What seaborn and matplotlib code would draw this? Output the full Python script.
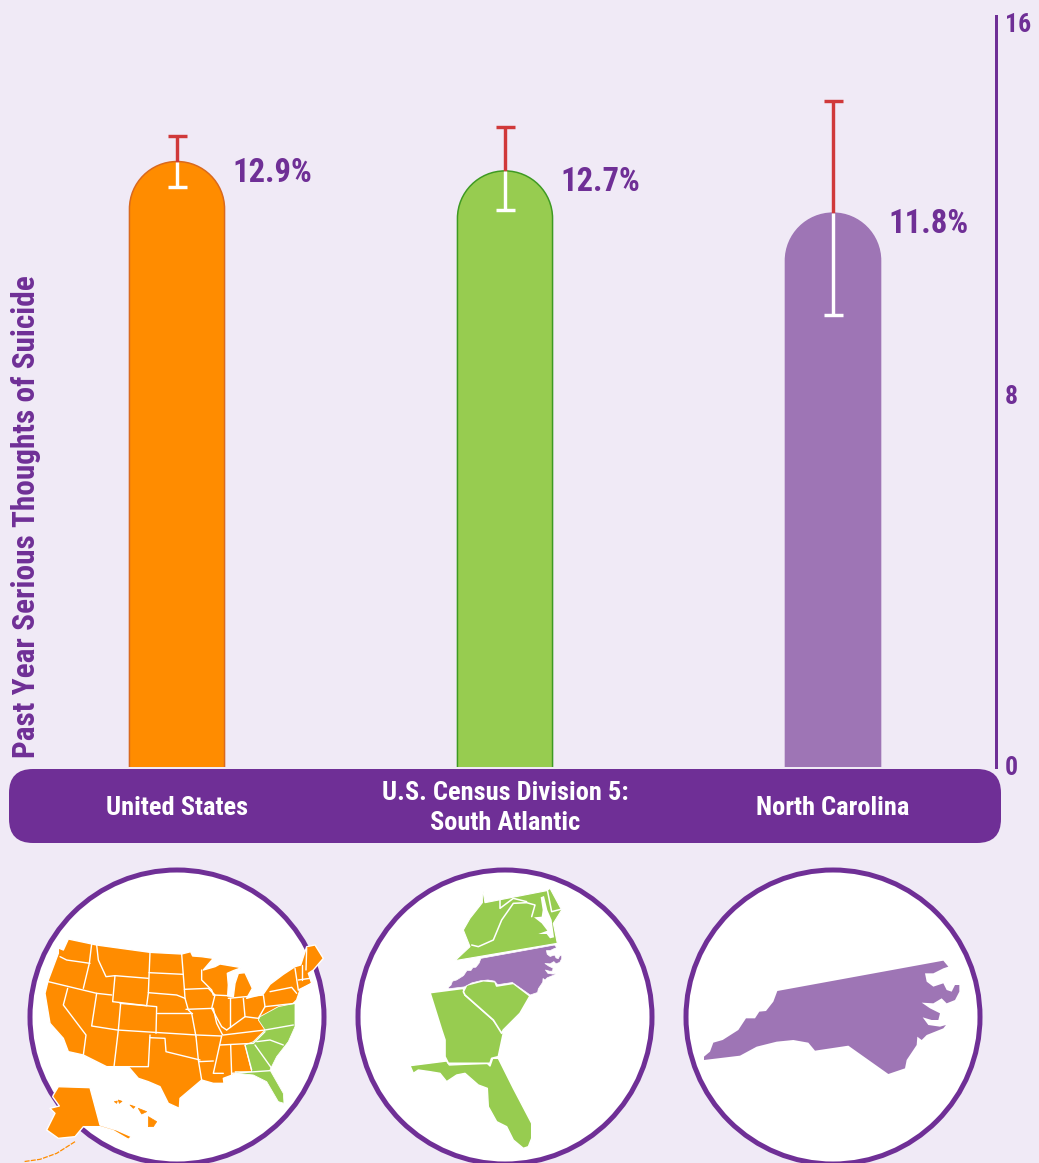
import matplotlib
matplotlib.use("Agg")
import matplotlib.pyplot as plt
import seaborn as sns
import pandas as pd
from matplotlib.patches import Circle, FancyBboxPatch, PathPatch, Polygon
from matplotlib.path import Path
from matplotlib.transforms import ScaledTranslation

# ---- chart data ----
categories = ["United States", "U.S. Census Division 5:\nSouth Atlantic", "North Carolina"]
values = [12.9, 12.7, 11.8]
ci_low = [12.36, 11.87, 9.63]
ci_high = [13.44, 13.63, 14.19]
value_labels = ["12.9%", "12.7%", "11.8%"]
y_ticks = [0, 8, 16]
y_title = "Past Year Serious Thoughts of Suicide"

# ---- decorative map outlines (traced, 3x pixel units) ----
us_outline = [(175,600),(178,625),(190,630),(205,597),(290,615),(450,637),(545,642),(572,635),(578,648),(605,650),(640,655),
    (610,690),(645,680),(660,672),(725,683),(700,692),(682,700),(685,735),(683,768),(700,770),(705,730),(715,700),(735,698),(757,745),(740,775),
    (790,762),(810,733),(850,703),(885,680),(902,675),(920,620),(945,615),(970,655),(940,690),(925,700),(935,730),
    (900,750),(890,780),(875,795),(885,860),(865,905),(830,950),(810,990),(850,1060),(852,1090),(835,1085),
    (800,1025),(760,1005),(710,1000),(670,1015),(672,1030),(640,1030),(605,1020),(540,1075),(538,1105),
    (505,1090),(480,1040),(445,1025),(415,1015),(385,980),(320,980),(250,945),(205,935),(190,895),(150,850),
    (135,760),(145,720),(175,640)]
us_green = [(780,830),(835,800),(885,790),(885,860),(865,905),(830,950),(810,990),(850,1060),(852,1090),
    (835,1085),(800,1025),(760,1005),(710,1000),(705,995),(755,995),(735,915),(760,905),(795,870),(775,840)]
us_lines = [
    [(180,650),(200,660),(270,670)], [(275,612),(268,670),(250,745)], [(145,725),(290,760),(335,765)],
    [(290,615),(295,660),(318,710),(345,707),(338,785),(440,797)], [(345,707),(445,715)],
    [(450,637),(445,760),(440,797)], [(447,698),(550,703)], [(445,758),(530,765),(555,775),(565,810),(575,820),(588,890)],
    [(545,642),(553,745),(555,775)], [(553,748),(625,745),(645,765),(635,805),(665,860),(680,870)],
    [(470,820),(575,820)], [(360,790),(470,800),(468,880)], [(362,790),(355,870),(342,980)],
    [(290,760),(275,858),(352,870),(590,885),(665,888)], [(203,745),(190,795),(258,885),(250,945)],
    [(450,885),(445,980),(385,980)], [(450,893),(495,895),(498,935),(600,960)], [(588,890),(595,960),(605,1020)],
    [(597,965),(640,963)], [(558,808),(640,805),(650,850),(668,885)], [(640,765),(685,767)],
    [(605,690),(605,720),(635,750),(640,765)], [(690,775),(690,860)], [(730,775),(735,830)],
    [(685,775),(790,765),(795,800),(885,790)], [(810,755),(875,742),(890,760)],
    [(680,870),(735,830),(775,835),(795,800)], [(670,885),(795,870),(880,855)], [(660,915),(760,910),(795,875)],
    [(692,915),(695,1005)], [(735,915),(755,990)], [(665,888),(640,1000),(670,1000)], [(695,1000),(810,992)],
    [(765,915),(815,985)], [(770,905),(810,900),(850,915)], [(885,685),(895,750)], [(905,675),(905,720)],
    [(895,720),(930,715)], [(895,750),(935,730)], [(920,625),(918,690)],
]
alaska = [(160,1065),(175,1040),(270,1043),(300,1155),(350,1170),(395,1190),(385,1198),(340,1172),(300,1160),
    (250,1160),(225,1190),(175,1195),(140,1170),(165,1120),(150,1105),(178,1098),(158,1070)]
alaska_tail = [(225,1205),(170,1240),(120,1258),(70,1265)]
hawaii = [[(343,1085),(352,1083),(350,1090)], [(355,1080),(366,1084),(358,1090)], [(390,1095),(405,1100),(400,1105)],
    [(415,1105),(440,1115),(425,1122)], [(445,1130),(470,1145),(460,1160),(445,1160)]]
north_carolina = [(72,600),(72,590),(90,575),(100,548),(128,540),(175,510),(198,475),(225,475),(238,455),(258,453),
    (280,425),(292,393),(790,302),(805,320),(790,325),(760,340),(735,340),(740,365),(760,380),(790,370),(800,390),
    (815,395),(825,375),(838,375),(838,395),(825,420),(800,430),(785,415),(760,430),(725,428),(750,445),(780,460),
    (775,480),(755,480),(728,472),(745,495),(780,500),(798,495),(790,505),(740,525),(725,540),(712,530),(710,555),
    (680,600),(675,625),(625,642),(505,557),(405,572),(385,548),(340,540),(290,545),(230,560),(180,587)]
va_wv_md = [(397,82),(405,128),(590,92),(600,85),(635,150),(610,190),(622,250),(315,302),(360,260),(340,210),
    (360,175),(397,128)]
chesapeake = [(572,112),(582,108),(592,150),(605,180),(612,232),(600,235),(590,222),(565,222),(592,212),(575,190),
    (552,172),(575,170),(578,150)]
sa_lines = [[(365,255),(385,260),(430,240),(455,180),(490,130),(530,128),(555,135),(545,170)],
    [(450,120),(450,145),(490,115),(530,125)], [(592,90),(605,155),(632,148)]]
south_carolina = [(340,395),(350,375),(400,362),(435,365),(440,378),(490,370),(540,408),(510,460),(460,510),(455,520),
    (430,480),(345,405)]
georgia = [(240,398),(340,385),(345,405),(430,480),(460,520),(445,590),(425,595),(420,610),(295,610),(285,590),
    (285,540),(275,510)]
florida = [(180,617),(290,603),(298,615),(412,610),(420,618),(428,595),(445,595),(490,685),(545,790),(545,835),
    (535,860),(520,865),(490,840),(470,800),(440,785),(415,740),(412,685),(385,675),(345,640),(320,645),(290,665),
    (270,640),(240,635),(205,630),(190,640)]

# ---- style ----
BG = "#F0EAF6"
PURPLE = "#6F2F96"
ORANGE = "#FF8C00"
GREEN = "#97CC50"
LILAC = "#9E75B5"
RED = "#D0393A"
bar_colors = [ORANGE, GREEN, LILAC]
bar_edges = ["#D9691E", "#3E9A22", LILAC]
FONT = ["Roboto Condensed", "Liberation Sans", "DejaVu Sans"]
W, H = 1039, 1163
PT = 72 / 100  # points per pixel

sns.set_theme(style="white")
plt.rcParams["font.family"] = FONT
plt.rcParams["font.weight"] = "bold"

fig = plt.figure(figsize=(W / 100, H / 100), dpi=100, facecolor=BG)

# Overlay in pixel units: label band, circles, maps
bg = fig.add_axes([0, 0, 1, 1], zorder=0)
bg.set_xlim(0, W)
bg.set_ylim(H, 0)
bg.axis("off")

bg.add_patch(FancyBboxPatch((9 + 24, 769 + 24), 992 - 48, 74 - 48,
                            boxstyle="round,pad=24,rounding_size=24", fc=PURPLE, ec="none"))
for cx in (177, 505, 833):
    bg.add_patch(Circle((cx, 1017), 147, fc="white", ec=PURPLE, lw=5 * PT, zorder=2))


def px(points, ox, oy, s=1 / 3):
    return [(ox + x * s, oy + y * s) for x, y in points]


def poly(points, fc, ec="white", lw=0.8, z=3):
    bg.add_patch(Polygon(points, closed=True, fc=fc, ec=ec, lw=lw, zorder=z, joinstyle="round"))


# United States map
ox, oy = 0, 740
poly(px(us_outline, ox, oy), ORANGE, lw=1)
poly(px(us_green, ox, oy), GREEN, lw=0.6, z=3.1)
for line in us_lines:
    xs, ys = zip(*px(line, ox, oy))
    bg.plot(xs, ys, color="white", lw=1.0, zorder=3.2, solid_joinstyle="round")
poly(px(alaska, ox, oy), ORANGE, lw=1)
xs, ys = zip(*px(alaska_tail, ox, oy))
bg.plot(xs, ys, color=ORANGE, lw=0.9, ls=(0, (4, 1)), zorder=3)
for island in hawaii:
    poly(px(island, ox, oy), ORANGE, ec=ORANGE, lw=0.5)

# South Atlantic map
ox, oy = 350, 860
poly(px(va_wv_md, ox, oy), GREEN, lw=0.8)
poly(px(chesapeake, ox, oy), "white", lw=0, z=3.1)
for line in sa_lines:
    xs, ys = zip(*px(line, ox, oy))
    bg.plot(xs, ys, color="white", lw=1.1, zorder=3.2)
poly(px(florida, ox, oy), GREEN, lw=1)
poly(px(georgia, ox, oy), GREEN, lw=1.2)
poly(px(south_carolina, ox, oy), GREEN, lw=1.2)
nc_small = [(295 + (x - 72) * 0.444, 255 + (y - 302) * 0.441) for x, y in north_carolina]
poly(px(nc_small, ox, oy), LILAC, lw=0.5)

# North Carolina map
poly(px(north_carolina, 680, 860), LILAC, lw=0)

# Main chart
ax = fig.add_axes([13 / W, 1 - 767 / H, (996 - 13) / W, (767 - 16) / H], zorder=1)
ax.patch.set_alpha(0)

df = pd.DataFrame({"place": categories, "rate": values})
sns.barplot(data=df, x="place", y="rate", hue="place", order=categories, hue_order=categories,
            palette=bar_colors, saturation=1, width=0.29, legend=False, ax=ax)
ax.set_xlim(-0.5, (996 - 177) / 328)
ax.set_ylim(0, 16)

# Replace each rectangle by the same bar with a round top
fig.canvas.draw()
to_x = ax.transData.transform((1, 0))[0] - ax.transData.transform((0, 0))[0]
to_y = ax.transData.transform((0, 1))[1] - ax.transData.transform((0, 0))[1]
bars = sorted(ax.patches, key=lambda p: p.get_x())
K = 0.5523
for bar, edge, fill in zip(bars, bar_edges, bar_colors):
    x0, w, h = bar.get_x(), bar.get_width(), bar.get_height()
    bar.remove()
    rx = w / 2
    ry = rx * to_x / to_y
    xc = x0 + rx
    verts = [(x0, 0), (x0, h - ry), (x0, h - ry + K * ry), (xc - K * rx, h), (xc, h),
             (xc + K * rx, h), (x0 + w, h - ry + K * ry), (x0 + w, h - ry), (x0 + w, 0)]
    codes = [Path.MOVETO, Path.LINETO, Path.CURVE4, Path.CURVE4, Path.CURVE4,
             Path.CURVE4, Path.CURVE4, Path.CURVE4, Path.LINETO]
    ax.add_patch(PathPatch(Path(verts, codes), fc=fill, ec=edge, lw=1.5 * PT, zorder=2, capstyle="butt"))

# Two-tone error bars
positions = list(range(len(categories)))
ax.vlines(positions, values, ci_high, color=RED, lw=3.4 * PT, zorder=3)
ax.vlines(positions, ci_low, values, color="white", lw=3.4 * PT, zorder=3)
ax.plot(positions, ci_high, ls="none", marker="_", ms=19 * PT, mew=3.4 * PT, color=RED, zorder=3)
ax.plot(positions, ci_low, ls="none", marker="_", ms=19 * PT, mew=3.4 * PT, color="white", zorder=3)

# Value labels
for i, (v, label) in enumerate(zip(values, value_labels)):
    ax.annotate(label, (i, v), xytext=(55 * PT, -11 * PT), textcoords="offset points",
                ha="left", va="center", color=PURPLE, fontsize=23.5, fontweight="bold")

# Axes furniture
sns.despine(ax=ax, left=True, bottom=True, top=True, right=False)
ax.spines["right"].set_color(PURPLE)
ax.spines["right"].set_linewidth(3 * PT)
ax.yaxis.tick_right()
ax.set_yticks(y_ticks)
ax.set_yticklabels([str(t) for t in y_ticks])
ax.tick_params(axis="y", length=0, pad=9 * PT, labelsize=18.5, labelcolor=PURPLE)
for label, dy in zip(ax.get_yticklabels(), (1.5, -3.5, -7)):
    label.set_transform(label.get_transform() + ScaledTranslation(0, dy * PT / 72, fig.dpi_scale_trans))
    label.set_fontweight("bold")

ax.set_xlabel("")
ax.tick_params(axis="x", length=0, pad=41 * PT, labelsize=19, labelcolor="white")
for label in ax.get_xticklabels():
    label.set_verticalalignment("center")
    label.set_fontweight("bold")
    label.set_linespacing(1.27)

ax.yaxis.set_label_position("left")
ax.set_ylabel(y_title, color=PURPLE, fontsize=22.5, fontweight="bold", va="center")
ax.yaxis.set_label_coords((26.5 - 13) / (996 - 13), (767 - 517) / (767 - 16))

fig.savefig("out.png", dpi=100, facecolor=BG)
